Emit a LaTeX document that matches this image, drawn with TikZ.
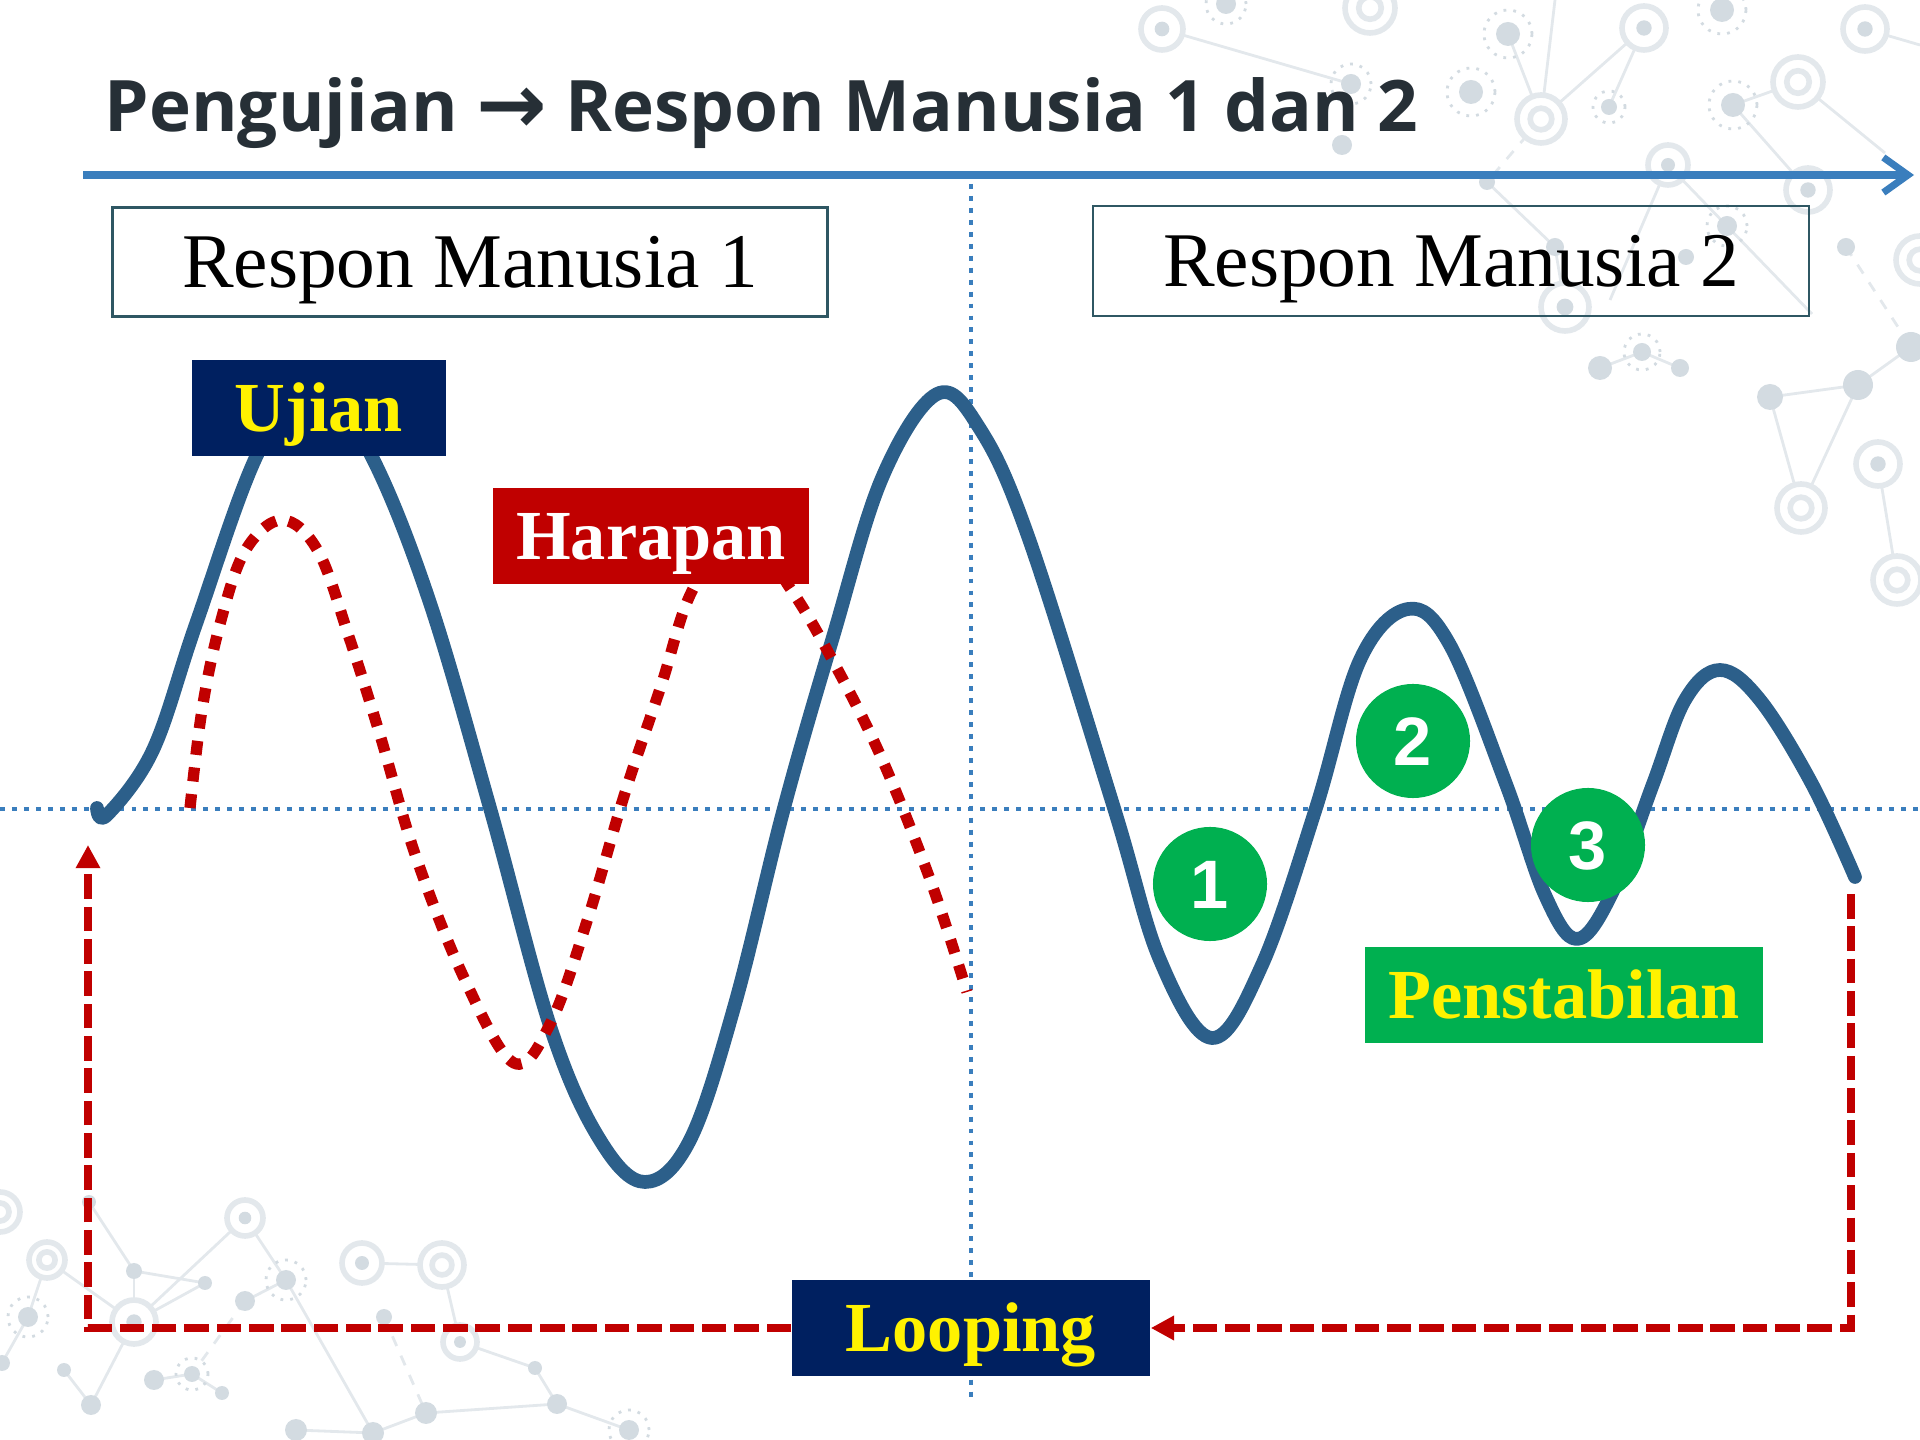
\documentclass[tikz,border=0pt]{standalone}
\usepackage{fontspec}
\setmainfont{Liberation Serif}
\setsansfont{Liberation Sans}
\newfontfamily\titlefont{Open Sans}
\newfontfamily\arrowfont{DejaVu Sans}
\usetikzlibrary{arrows.meta}
\definecolor{curveblue}{HTML}{2C5F8A}
\definecolor{axisblue}{HTML}{3A7EBD}
\definecolor{navy}{HTML}{002060}
\definecolor{darkred}{HTML}{C00000}
\definecolor{okgreen}{HTML}{00B050}
\definecolor{titlegray}{HTML}{262F36}
\definecolor{boxteal}{HTML}{2F5763}
\definecolor{netgray}{HTML}{D3DBE1}
\definecolor{netpale}{HTML}{E3E8EC}

\tikzset{
  curve/.style={line width=3.9pt, draw=curveblue, line cap=round, line join=round},
  expect/.style={line width=3.2pt, draw=darkred, dash pattern=on 4pt off 3.6pt},
  loopline/.style={line width=2pt, draw=darkred, dash pattern=on 7pt off 2.2pt},
  guide/.style={line width=1.4pt, draw=axisblue, dash pattern=on 1.4pt off 2pt},
  respbox/.style={draw=boxteal, line width=0.7pt, inner sep=0pt, font=\fontsize{22}{26}\selectfont, text height=14.6pt, text depth=0pt},
  tag/.style={inner sep=0pt, font=\bfseries\fontsize{20}{24}\selectfont, text height=13.3pt, text depth=0pt, minimum height=0.95cm},
  numdot/.style={circle, fill=okgreen, minimum size=1.14cm, inner sep=0pt, text=white, font=\sffamily\bfseries\fontsize{19.5}{22}\selectfont, text height=14pt, text depth=0pt},
  netln/.style={draw=netpale, line width=0.8pt},
  netring/.style={draw=netpale, line width=1.6pt},
  netdots/.style={draw=netgray, line width=0.8pt, dotted},
}

\begin{document}
\begin{tikzpicture}[x=0.01cm, y=-0.01cm]
  \useasboundingbox (0,0) rectangle (1920,1440);

  % background network
  \foreach \xa/\ya/\xb/\yb in {1162/29/1351/84, 1508/34/1541/119, 1541/119/1644/28, 1609/107/1644/28, 1541/119/1555/0, 1487/182/1555/247, 1733/105/1808/190, 1733/105/1798/82, 1798/82/1885/153, 1865/29/1920/45, 1770/397/1858/385, 1858/385/1911/347, 1770/397/1801/508, 1858/385/1801/508, 1878/464/1897/580, 1600/368/1642/352, 1642/352/1680/368, 1668/165/1610/300, 1668/165/1812/314, 1555/247/1565/307,
      89/1202/134/1271, 134/1271/205/1283, 134/1271/134/1322, 47/1260/134/1322, 134/1322/205/1283, 134/1322/245/1218, 245/1218/286/1280, 286/1280/245/1301, 154/1380/192/1374, 192/1374/222/1393, 134/1322/91/1405, 64/1370/91/1405, 47/1260/28/1317, 28/1317/2/1363, 362/1263/442/1265, 442/1265/460/1342, 460/1342/535/1368, 535/1368/557/1404, 557/1404/426/1413, 426/1413/373/1433, 373/1433/296/1430, 286/1280/373/1433, 557/1404/629/1430}
    \draw[netln] (\xa,\ya) -- (\xb,\yb);
  \foreach \xa/\ya/\xb/\yb in {1541/119/1487/182, 1846/247/1911/347, 245/1301/192/1374, 384/1317/426/1413}
    \draw[netln, dashed] (\xa,\ya) -- (\xb,\yb);
  \foreach \x/\y/\r in {1162/29/21, 1644/28/22, 1865/29/22, 1668/165/20, 1808/190/22, 1565/307/24, 1878/464/22, 134/1322/22, 245/1218/18, 362/1263/20, 460/1342/17} {
    \filldraw[netring, fill=white] (\x,\y) circle[radius=\r*0.01cm];
    \fill[netgray] (\x,\y) circle[radius=\r*0.0035cm];
  }
  \foreach \x/\y/\r in {1370/8/25, 1541/119/24, 1798/82/25, 1801/508/24, 1897/580/24, 1920/260/24, 47/1260/18, 442/1265/22, 0/1212/20} {
    \filldraw[netring, fill=white] (\x,\y) circle[radius=\r*0.01cm];
    \draw[netring] (\x,\y) circle[radius=\r*0.0045cm];
  }
  \foreach \x/\y/\r in {1508/34/12, 1471/92/12, 1609/107/8, 1733/105/12, 1722/10/12, 1351/84/10, 1642/352/9, 1727/226/10, 1226/4/10, 286/1280/10, 28/1317/10, 192/1374/8, 629/1430/10} {
    \draw[netdots] (\x,\y) circle[radius=\r*0.02cm];
    \fill[netgray] (\x,\y) circle[radius=\r*0.01cm];
  }
  \foreach \x/\y/\r in {1342/145/10, 1487/182/8, 1846/247/9, 1555/247/9, 1686/257/8, 1600/368/12, 1680/368/9, 1770/397/13, 1858/385/15, 1911/347/15, 89/1202/7, 134/1271/8, 205/1283/7, 245/1301/10, 2/1363/8, 64/1370/7, 91/1405/10, 154/1380/10, 222/1393/7, 384/1317/8, 535/1368/7, 557/1404/10, 426/1413/11, 373/1433/11, 296/1430/11}
    \fill[netgray] (\x,\y) circle[radius=\r*0.01cm];

  % guide lines and time axis
  \draw[guide] (0,809) -- (1920,809);
  \draw[guide] (971,184) -- (971,1402);
  \coordinate (axisL) at (83,175);
  \coordinate (axisR) at (1914,175);
  \draw[line width=2pt, axisblue, -{Straight Barb[length=7pt,width=10pt]}] (axisL) -- (axisR);

  \node[anchor=base west, inner sep=0pt, text=titlegray, font=\titlefont\bfseries\fontsize{20.2}{24}\selectfont] (title) at (104,132) {Pengujian {\arrowfont\bfseries\fontsize{24}{24}\selectfont\raisebox{-0.5pt}{→}} Respon Manusia 1 dan 2};

  \node[respbox, minimum width=7.15cm, minimum height=1.09cm] (resp1) at (470,262) {Respon Manusia 1};
  \node[respbox, minimum width=7.16cm, minimum height=1.10cm] (resp2) at (1451,261) {Respon Manusia 2};

  % response curve and expectation
  \draw[curve] plot[smooth, tension=0.6] coordinates {(97,808) (107,815) (153,750) (196,624) (257,455) (314,375) (371,455) (429,600) (490,808) (551,1029) (600,1140) (645,1182) (690,1140) (735,1004) (784,808) (833,637) (882,478) (937,394) (980,429) (1029,539) (1114,808) (1160,960) (1212,1038) (1262,965) (1316,808) (1360,660) (1408,609) (1450,645) (1506,784) (1545,895) (1577,939) (1612,893) (1653,784) (1685,700) (1720,670) (1760,700) (1812,784) (1855,877)};
  \draw[expect] plot[smooth, tension=0.6] coordinates {(190,808) (202,710) (220,624) (245,551) (282,520) (318,551) (349,637) (380,735) (416,857) (465,980) (514,1063) (551,1022) (588,918) (624,796) (661,686) (692,591) (741,528) (790,588) (833,661) (882,759) (931,882) (967,992)};

  \node[tag, fill=navy, text=yellow, minimum width=2.54cm] (ujian) at (319,408) {Ujian};
  \node[tag, fill=darkred, text=white, minimum width=3.16cm] (harapan) at (651,536) {Harapan};
  \node[tag, fill=okgreen, text=yellow, minimum width=3.98cm, minimum height=0.96cm] (stabil) at (1564,995) {Penstabilan};
  \node[tag, fill=navy, text=yellow, minimum width=3.58cm] (looping) at (971,1328) {Looping};

  \node[numdot] (n1) at (1210,884) {1};
  \node[numdot] (n2) at (1413,741) {2};
  \node[numdot] (n3) at (1588,845) {3};

  % loop back
  \coordinate (loopR) at (1851,894);
  \coordinate (loopL) at (88,845);
  \draw[loopline, -{Triangle[length=6.6pt,width=6.6pt]}] (loopR) |- (looping.east);
  \draw[loopline, -{Triangle[length=6.6pt,width=6.6pt]}] (looping.west) -| (loopL);
\end{tikzpicture}
\end{document}
